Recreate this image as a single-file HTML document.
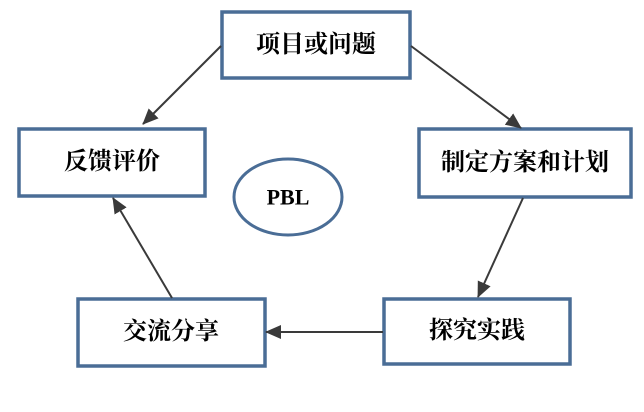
<!DOCTYPE html>
<html><head><meta charset="utf-8"><style>
body{margin:0;background:#fff;width:644px;height:407px;overflow:hidden}
svg text{font-family:"Liberation Serif","Noto Serif CJK SC",serif;font-weight:bold;font-size:24px;fill:#000;text-anchor:middle;dominant-baseline:central}
</style></head><body>
<svg width="644" height="407" viewBox="0 0 644 407">
<defs><marker id="a" markerWidth="10" markerHeight="10" refX="9" refY="5" orient="auto" markerUnits="userSpaceOnUse" viewBox="0 0 10 10"><path d="M0,0 L10,5 L0,10 z" fill="#3a3a3a"/></marker>
<marker id="b" markerWidth="16" markerHeight="14" refX="15" refY="7" orient="auto" markerUnits="userSpaceOnUse"><path d="M0,0 L16,7 L0,14 z" fill="#3a3a3a"/></marker></defs>
<g fill="#fff" stroke="#4a6d96" stroke-width="3.5">
<rect x="222" y="12" width="188" height="66"/>
<rect x="19" y="129" width="186" height="67"/>
<rect x="419" y="129" width="212" height="68"/>
<rect x="384" y="299" width="186" height="65"/>
<rect x="78" y="299" width="187" height="67"/>
<ellipse cx="288" cy="197" rx="54" ry="38" stroke-width="3"/>
</g>
<g stroke="#3a3a3a" stroke-width="2" fill="none">
<line x1="221" y1="46" x2="143" y2="124" marker-end="url(#b)"/>
<line x1="411" y1="46" x2="521" y2="128" marker-end="url(#b)"/>
<line x1="523" y1="198" x2="478" y2="297" marker-end="url(#b)"/>
<line x1="383" y1="332" x2="266" y2="332" marker-end="url(#b)"/>
<line x1="172" y1="298" x2="113" y2="198" marker-end="url(#b)"/>
</g>
<text x="316" y="45">项目或问题</text>
<text x="112" y="162">反馈评价</text>
<text x="525" y="163">制定方案和计划</text>
<text x="477" y="331">探究实践</text>
<text x="171" y="332">交流分享</text>
<text x="288" y="197" style="font-size:22px">PBL</text>
</svg>
</body></html>
